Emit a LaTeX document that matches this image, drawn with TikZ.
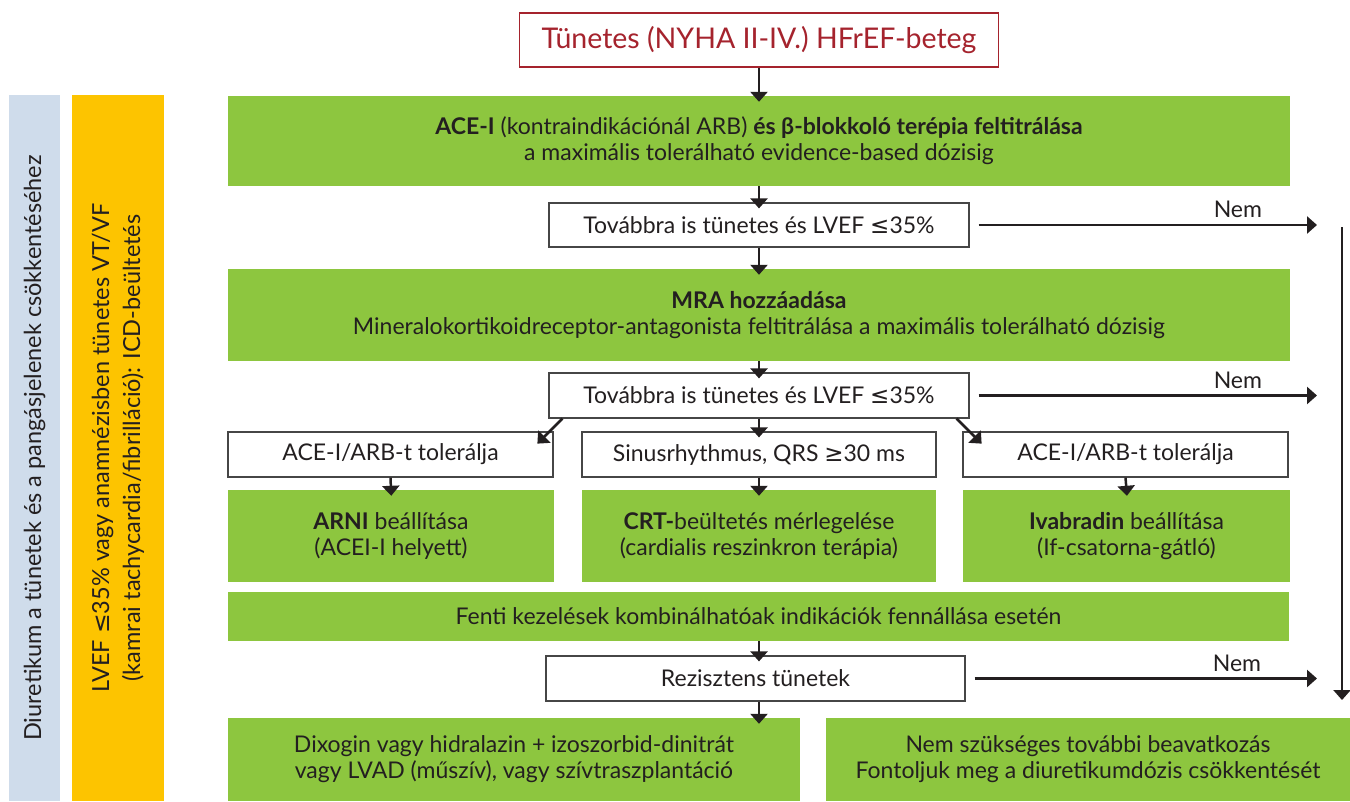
\documentclass[tikz,border=0pt]{standalone}
\usepackage{fontspec}
\setmainfont{Lato}
\newfontfamily\symfont{DejaVu Sans}
\usetikzlibrary{arrows.meta,positioning,calc}
\usepackage{xcolor}
\definecolor{hfgreen}{RGB}{141,198,63}
\definecolor{hfred}{RGB}{165,35,45}
\definecolor{ink}{RGB}{35,31,32}
\definecolor{boxline}{RGB}{70,70,70}
\definecolor{sideblue}{RGB}{207,220,235}
\definecolor{sideyellow}{RGB}{253,196,0}
\newcommand{\lesym}{{\symfont ≤}}
\newcommand{\gesym}{{\symfont ≥}}

\begin{document}
\begin{tikzpicture}[x=1pt, y=-1pt,
    txt/.style={font=\fontsize{23}{26}\selectfont, text=ink, align=center, inner sep=0pt},
    greenbox/.style={txt, fill=hfgreen, minimum height=92pt},
    whitebox/.style={txt, draw=boxline, line width=1.2pt, fill=white, minimum height=45pt},
    sidebar/.style={txt, rotate=90, minimum width=706pt, font=\fontsize{23.5}{31}\selectfont},
    arr/.style={-{Triangle[width=17pt,length=10pt]}, line width=2.5pt, draw=ink, shorten >=-6pt}
  ]
    \useasboundingbox (0,0) rectangle (1350,801);

    % Side bars
    \node[sidebar, fill=sideblue, minimum height=51pt] (diuretic) at (34.5,448)
        {Diuretikum a tünetek és a pangásjelenek csökkentéséhez};
    \node[sidebar, fill=sideyellow, minimum height=92pt] (icd) at (118,448)
        {LVEF \lesym35\% vagy anamnézisben tünetes VT/VF\\(kamrai tachycardia/fibrilláció): ICD-beültetés};

    % Main column
    \node[whitebox, draw=hfred, text=hfred, font=\fontsize{28.5}{32}\selectfont,
          minimum width=479pt, minimum height=54pt] (start) at (759,40) {Tünetes (NYHA II-IV.) HFrEF-beteg};
    \node[greenbox, minimum width=1062pt, minimum height=90pt] (acei) at (759,141)
        {\textbf{ACE-I} (kontraindikációnál ARB) \textbf{és β-blokkoló terépia feltitrálása}\\a maximális tolerálható evidence-based dózisig};
    \node[whitebox, minimum width=420pt, minimum height=44pt] (q1) at (759,225) {Továbbra is tünetes és LVEF \lesym35\%};
    \node[greenbox, minimum width=1062pt] (mra) at (759,315)
        {\textbf{MRA hozzáadása}\\Mineralokortikoidreceptor-antagonista feltitrálása a maximális tolerálható dózisig};
    \node[whitebox, minimum width=420pt] (q2) at (759,395.5) {Továbbra is tünetes és LVEF \lesym35\%};

    % Branches
    \node[whitebox, minimum width=325pt] (ca) at (390.5,454.5) {ACE-I/ARB-t tolerálja};
    \node[whitebox, minimum width=354pt] (cb) at (759,454.5) {Sinusrhythmus, QRS \gesym30 ms};
    \node[whitebox, minimum width=325pt] (cc) at (1125.5,454.5) {ACE-I/ARB-t tolerálja};
    \node[greenbox, minimum width=326pt] (ta) at (391,536) {\textbf{ARNI} beállítása\\(ACEI-I helyett)};
    \node[greenbox, minimum width=354pt] (tb) at (759,536) {\textbf{CRT-}beültetés mérlegelése\\(cardialis reszinkron terápia)};
    \node[greenbox, minimum width=327pt] (tc) at (1126.5,536) {\textbf{Ivabradin} beállítása\\(If-csatorna-gátló)};

    \node[greenbox, minimum width=1061pt, minimum height=49pt] (combo) at (758.5,616.5)
        {Fenti kezelések kombinálhatóak indikációk fennállása esetén};
    \node[whitebox, minimum width=419pt] (rez) at (755.5,678.5) {Rezisztens tünetek};
    \node[greenbox, minimum width=572pt, minimum height=83pt] (adv) at (514,759.5)
        {Dixogin vagy hidralazin + izoszorbid-dinitrát\\vagy LVAD (műszív), vagy szívtraszplantáció};
    \node[greenbox, minimum width=524pt, minimum height=83pt] (none) at (1088,759.5)
        {Nem szükséges további beavatkozás\\Fontoljuk meg a diuretikumdózis csökkentését};

    % Arrows
    \draw[arr] (start.south) -- (acei.north);
    \draw[arr] (acei.south) -- (q1.north);
    \draw[arr] (q1.south) -- (mra.north);
    \draw[arr] (mra.south) -- (q2.north);
    \draw[arr] ([xshift=14pt]q2.south west) -- ([xshift=-12pt,yshift=-8pt]ca.north east);
    \draw[arr] (q2.south) -- (cb.north);
    \draw[arr] ([xshift=-13pt]q2.south east) -- ([xshift=15pt,yshift=-8pt]cc.north west);
    \draw[arr] (ca.south) -- (ta.north);
    \draw[arr] (cb.south) -- (tb.north);
    \draw[arr] (cc.south) -- (tc.north);
    \draw[arr] (combo.south -| acei) -- (rez.north -| acei);
    \draw[arr] (rez.south -| acei) -- (adv.north -| acei);

    % Nem branches
    \coordinate (nemx) at (1311,0);
    \foreach \q in {q1, q2, rez} {
        \draw[arr] ([xshift=9pt]\q.east) -- (\q.east -| nemx)
            node[txt, pos=0.78, above=6pt] {Nem};
    }
    \coordinate (vtop) at (1342,227);
    \coordinate (vbot) at (1342,694);
    \draw[arr] (vtop) -- (vbot);
\end{tikzpicture}
\end{document}
